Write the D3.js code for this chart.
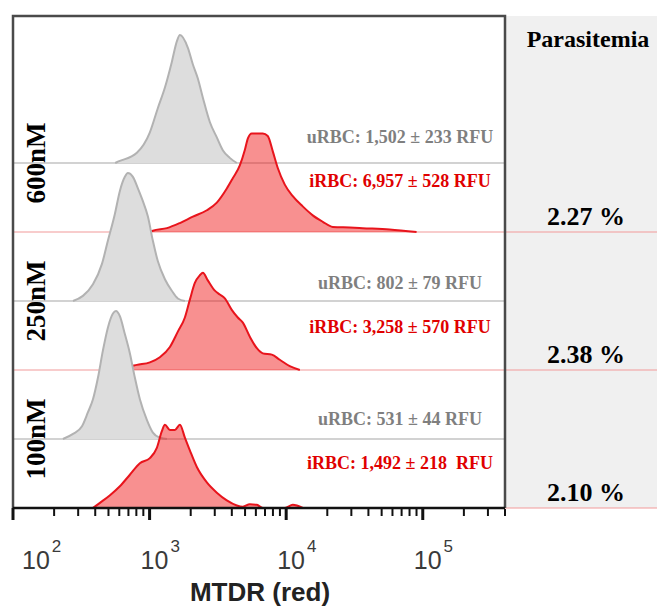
<!DOCTYPE html>
<html>
<head>
<meta charset="utf-8">
<script src="https://cdn.jsdelivr.net/npm/d3@7"></script>
<style>
  body { margin: 0; background: #fff; }
  svg { display: block; }
</style>
</head>
<body>
<div id="main"></div>
<script>
// row labels, top to bottom
const concentrations = ["600nM", "250nM", "100nM"];
const parasitemia = ["2.27 %", "2.38 %", "2.10 %"];
const uLabels = ["uRBC: 1,502 \u00b1 233 RFU", "uRBC: 802 \u00b1 79 RFU", "uRBC: 531 \u00b1 44 RFU"];
const iLabels = ["iRBC: 6,957 \u00b1 528 RFU", "iRBC: 3,258 \u00b1 570 RFU", "iRBC: 1,492 \u00b1 218  RFU"];
const tickExps = [2, 3, 4, 5];

// histograms: [MTDR fluorescence (RFU), count as % of uRBC mode]
const uRBC600 = [[560,0],[586,1],[807,8],[1005,24],[1150,43],[1295,59],[1455,79],[1583,95],[1667,100],[1907,90],[2075,77],[2256,66],[2455,51],[2761,32],[3106,20],[3435,10],[3864,4],[4352,0]];
const iRBC600 = [[1000,0],[1057,1],[1340,3],[1667,7],[2075,12],[2625,17],[3106,23],[3676,34],[4064,42],[4578,52],[4980,64],[5237,73],[5600,77],[6740,77],[7330,75],[7980,63],[8680,50],[9770,37],[11180,28],[13220,20],[15650,13],[18530,8],[21940,4],[29200,3.5],[36300,3],[57200,2],[90100,0]];
const uRBC250 = [[275,0],[325,4],[385,13],[448,29],[495,47],[557,68],[606,86],[659,97],[693,100],[755,97],[821,88],[893,78],[972,66],[1057,47],[1150,31],[1295,17],[1455,8],[1610,2],[1813,0]];
const iRBC250 = [[640,0],[682,2],[807,4],[1005,6],[1189,10],[1408,18],[1610,30],[1813,41],[1972,55],[2145,68],[2333,74],[2455,76],[2669,70],[3005,62],[3267,59],[3556,56],[3996,47],[4424,41],[4817,37],[5420,26],[6100,17],[6740,13],[7850,12],[8980,8],[10620,3],[12590,0]];
const uRBC100 = [[232,0],[275,4],[320,10],[354,21],[385,31],[419,48],[455,69],[495,87],[539,98],[567,100],[606,96],[659,82],[717,67],[780,48],[849,31],[955,15],[1057,5],[1189,1],[1340,0]];
const iRBC100 = [[385,0],[433,4],[513,10],[606,17],[717,26],[849,35],[1005,39],[1130,47],[1230,60],[1295,65],[1408,61],[1532,61],[1667,65],[1813,55],[1972,45],[2218,32],[2625,20],[3106,12],[3676,6],[4352,2],[4817,1],[5420,3],[6100,2.5],[6740,0],[9800,0],[11180,2.5],[13220,0]];

const uData = [uRBC600, uRBC250, uRBC100];
const iData = [iRBC600, iRBC250, iRBC100];

var W = 657, H = 607;
var padL = 13, padR = 505, padT = 16, padB = 508;

var svg = d3.select("#main").append("svg")
  .attr("width", W).attr("height", H);

var x = d3.scaleLog().domain([100, 4e5]).range([padL, padR]);
// six stacked baselines, bottom to top
var lane = d3.scaleLinear().domain([0, 5]).range([padB, 163]);
var h = d3.scaleLinear().domain([0, 100]).range([0, 128]);

var uDy = [-20, -12, -14], iDy = [24, 32, 30];
var serif = "'Liberation Serif', 'Times New Roman', serif";
var sans = "'Liberation Sans', Arial, sans-serif";

// parasitemia panel
svg.append("rect")
  .attr("x", padR + 1).attr("y", padT)
  .attr("width", W - padR - 1).attr("height", padB - padT)
  .attr("fill", "#f0f0f0");

svg.append("text")
  .attr("x", 588).attr("y", 47)
  .attr("text-anchor", "middle")
  .style("font-family", serif).style("font-weight", "bold").style("font-size", "24px")
  .text("Parasitemia");

function area(base) {
  return d3.area()
    .curve(d3.curveMonotoneX)
    .x(function(d) { return x(d[0]); })
    .y0(base)
    .y1(function(d) { return base - h(d[1]); });
}
function line(base) {
  return d3.line()
    .curve(d3.curveMonotoneX)
    .x(function(d) { return x(d[0]); })
    .y(function(d) { return base - h(d[1]); });
}

concentrations.forEach(function(c, i) {
  var gBase = lane(5 - 2 * i), rBase = lane(4 - 2 * i);
  var g = svg.append("g");

  // baselines
  g.append("line")
    .attr("x1", padL).attr("x2", padR).attr("y1", gBase).attr("y2", gBase)
    .attr("stroke", "#d2d2d2").attr("stroke-width", 2);
  g.append("line")
    .attr("x1", padL).attr("x2", W).attr("y1", rBase).attr("y2", rBase)
    .attr("stroke", "#f19a9a").attr("stroke-width", 1.2);

  g.append("path").datum(uData[i])
    .attr("d", area(gBase))
    .attr("fill", "#dddddd");
  g.append("path").datum(uData[i])
    .attr("d", line(gBase))
    .attr("fill", "none").attr("stroke", "#b2b2b2").attr("stroke-width", 2);

  g.append("path").datum(iData[i])
    .attr("d", area(rBase))
    .attr("fill", "rgba(240,20,20,0.47)");
  g.append("path").datum(iData[i])
    .attr("d", line(rBase))
    .attr("fill", "none").attr("stroke", "#e8141c").attr("stroke-width", 2);

  g.append("text")
    .attr("transform", "translate(45," + gBase + ") rotate(-90)")
    .attr("text-anchor", "middle")
    .style("font-family", serif).style("font-weight", "bold").style("font-size", "27px")
    .text(c);

  g.append("text")
    .attr("x", 400).attr("y", gBase + uDy[i])
    .attr("text-anchor", "middle").attr("fill", "#7f7f7f")
    .style("font-family", serif).style("font-weight", "bold").style("font-size", "18px")
    .text(uLabels[i]);
  g.append("text")
    .attr("x", 400).attr("y", gBase + iDy[i])
    .attr("text-anchor", "middle").attr("fill", "#e00000")
    .attr("xml:space", "preserve")
    .style("font-family", serif).style("font-weight", "bold").style("font-size", "18px")
    .text(iLabels[i]);

  g.append("text")
    .attr("x", 586).attr("y", rBase - 7)
    .attr("text-anchor", "middle")
    .style("font-family", serif).style("font-weight", "bold").style("font-size", "26px")
    .text(parasitemia[i]);
});

// frame
svg.append("path")
  .attr("d", "M" + padL + "," + padB + "V" + padT + "H" + padR + "V" + padB)
  .attr("fill", "none").attr("stroke", "#4a4a4a").attr("stroke-width", 2.5);

// x axis
var axis = svg.append("g").attr("transform", "translate(0," + padB + ")");
axis.append("line")
  .attr("x1", padL).attr("x2", padR)
  .attr("stroke", "#111").attr("stroke-width", 2.5);
axis.selectAll(".minor")
  .data(x.ticks().filter(function(t) { return tickExps.indexOf(Math.round(Math.log10(t) * 1000) / 1000) < 0; }))
  .enter().append("line")
  .attr("x1", function(d) { return x(d); }).attr("x2", function(d) { return x(d); })
  .attr("y1", 1).attr("y2", 8)
  .attr("stroke", "#111").attr("stroke-width", 2);
axis.selectAll(".major")
  .data(tickExps)
  .enter().append("line")
  .attr("x1", function(d) { return x(Math.pow(10, d)); }).attr("x2", function(d) { return x(Math.pow(10, d)); })
  .attr("y1", 0).attr("y2", 12)
  .attr("stroke", "#111").attr("stroke-width", 3);

var lbl = axis.selectAll(".lbl")
  .data(tickExps)
  .enter().append("text")
  .attr("x", function(d) { return Math.max(x(Math.pow(10, d)) - 9, 22); })
  .attr("y", 61)
  .attr("fill", "#3a3a3a")
  .style("font-family", sans).style("font-size", "25px");
lbl.append("tspan").text("10");
lbl.append("tspan")
  .attr("dy", -17).attr("dx", 2)
  .style("font-size", "17px")
  .text(function(d) { return d; });

svg.append("text")
  .attr("x", 260).attr("y", 601)
  .attr("text-anchor", "middle").attr("fill", "#222")
  .style("font-family", sans).style("font-weight", "bold").style("font-size", "26px")
  .text("MTDR (red)");
</script>
</body>
</html>
